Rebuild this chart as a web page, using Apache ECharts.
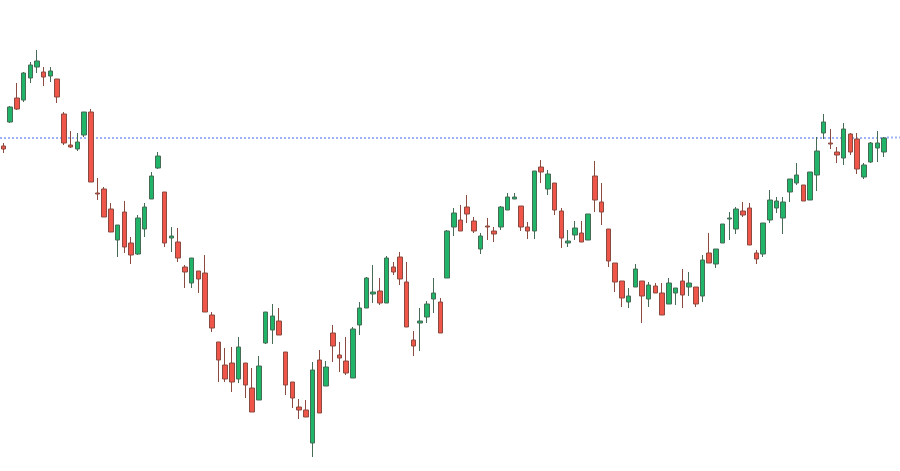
<!DOCTYPE html>
<html>
<head>
<meta charset="utf-8">
<script src="https://cdn.jsdelivr.net/npm/echarts@6/dist/echarts.min.js"></script>
<style>
  html, body { margin: 0; padding: 0; background: #fff; }
  #chart { width: 900px; height: 471px; }
</style>
</head>
<body>
<div id="chart"></div>
<script>
// price in points
const opens = [334,358,382,380,402,413,408,404,401,366,335,331,345,368,287,291,271,240,268,237,226,251,281,312,288,242,238,213,197,209,207,165,138,115,117,101,117,92,80,137,150,159,128,98,73,70,37,120,94,147,125,119,102,155,172,186,189,177,213,223,198,140,157,163,181,178,202,253,260,273,259,231,254,249,253,270,281,274,253,249,313,291,297,269,237,245,247,240,304,278,251,217,199,178,193,199,181,194,187,176,187,199,193,193,184,227,216,237,261,251,269,272,227,226,260,272,262,288,297,295,280,305,347,337,328,322,346,341,303,318,332,328]
const closes = [331,373,371,407,415,419,403,409,383,337,333,338,368,298,286,263,248,255,233,225,262,273,304,324,237,244,222,208,222,201,168,152,120,101,98,133,95,68,114,168,164,145,95,82,70,63,110,67,113,134,122,107,151,172,202,188,177,222,208,201,153,134,159,176,187,147,249,267,249,266,249,244,253,246,273,283,283,253,249,309,308,306,270,242,239,252,238,266,280,268,219,198,182,184,211,184,195,187,165,197,192,185,197,176,220,217,231,256,262,271,265,235,221,257,280,279,278,301,305,279,308,329,358,336,325,351,328,311,315,337,337,342]
const lows = [327,357,370,378,397,407,394,398,377,335,332,329,343,298,280,263,248,223,227,216,225,243,281,311,233,228,218,192,192,187,168,148,98,98,88,97,82,68,80,136,136,145,85,72,61,63,23,67,94,118,108,105,102,145,172,177,175,177,205,195,153,124,129,157,167,147,202,244,249,257,247,226,240,238,250,270,281,249,241,241,297,285,265,232,233,240,238,240,268,255,213,188,173,172,193,157,173,187,165,176,175,172,184,173,178,217,212,237,240,246,263,235,216,223,257,267,246,278,295,279,280,289,341,331,317,315,325,306,301,317,318,323]
const highs = [337,374,397,408,418,430,413,413,401,368,349,347,368,371,302,293,277,255,279,243,265,277,308,328,288,253,252,215,222,209,225,168,138,132,133,143,117,112,124,168,176,172,128,98,81,80,118,130,119,155,138,143,153,178,203,215,202,224,218,228,218,149,172,179,202,182,250,272,275,285,263,247,262,253,274,287,287,274,258,309,320,310,297,272,250,259,259,266,319,297,251,217,199,192,216,199,198,197,197,202,192,211,208,193,225,247,231,256,268,273,278,277,230,257,290,283,283,301,317,295,308,343,366,351,333,357,347,347,317,338,349,343]
const refLevel = 342.5

const days = opens.map((_, i) => 'D' + (i + 1))
const candles = opens.map((o, i) => [o, closes[i], lows[i], highs[i]])

const lineColor = '#9db3f6'

const chart = echarts.init(document.getElementById('chart'))
chart.setOption({
  animation: false,
  backgroundColor: '#ffffff',
  grid: {
    left: -1.4,
    right: 12.6,
    top: 0,
    bottom: 0
  },
  xAxis: {
    type: 'category',
    data: days,
    boundaryGap: true,
    show: false
  },
  yAxis: {
    type: 'value',
    min: 9,
    max: 480,
    show: false,
    splitLine: { show: false }
  },
  series: [{
    type: 'candlestick',
    data: candles,
    barWidth: 5,
    z: 3,
    itemStyle: {
      color: '#1fb468',
      color0: '#ef5548',
      borderColor: '#466b55',
      borderColor0: '#8a4a40',
      borderWidth: 1
    },
    markLine: {
      silent: true,
      symbol: ['none', 'none'],
      label: { show: false },
      emphasis: { disabled: true },
      z: 1,
      lineStyle: {
        color: lineColor,
        type: [2, 2],
        width: 2
      },
      data: [{ yAxis: refLevel }]
    }
  }],
  graphic: [{
    // dotted level continues past the last candle to the page edge
    type: 'line',
    shape: { x1: 887, y1: 137.5, x2: 900, y2: 137.5 },
    style: { stroke: lineColor, lineDash: [2, 2], lineWidth: 2 },
    silent: true
  }]
})
</script>
</body>
</html>
